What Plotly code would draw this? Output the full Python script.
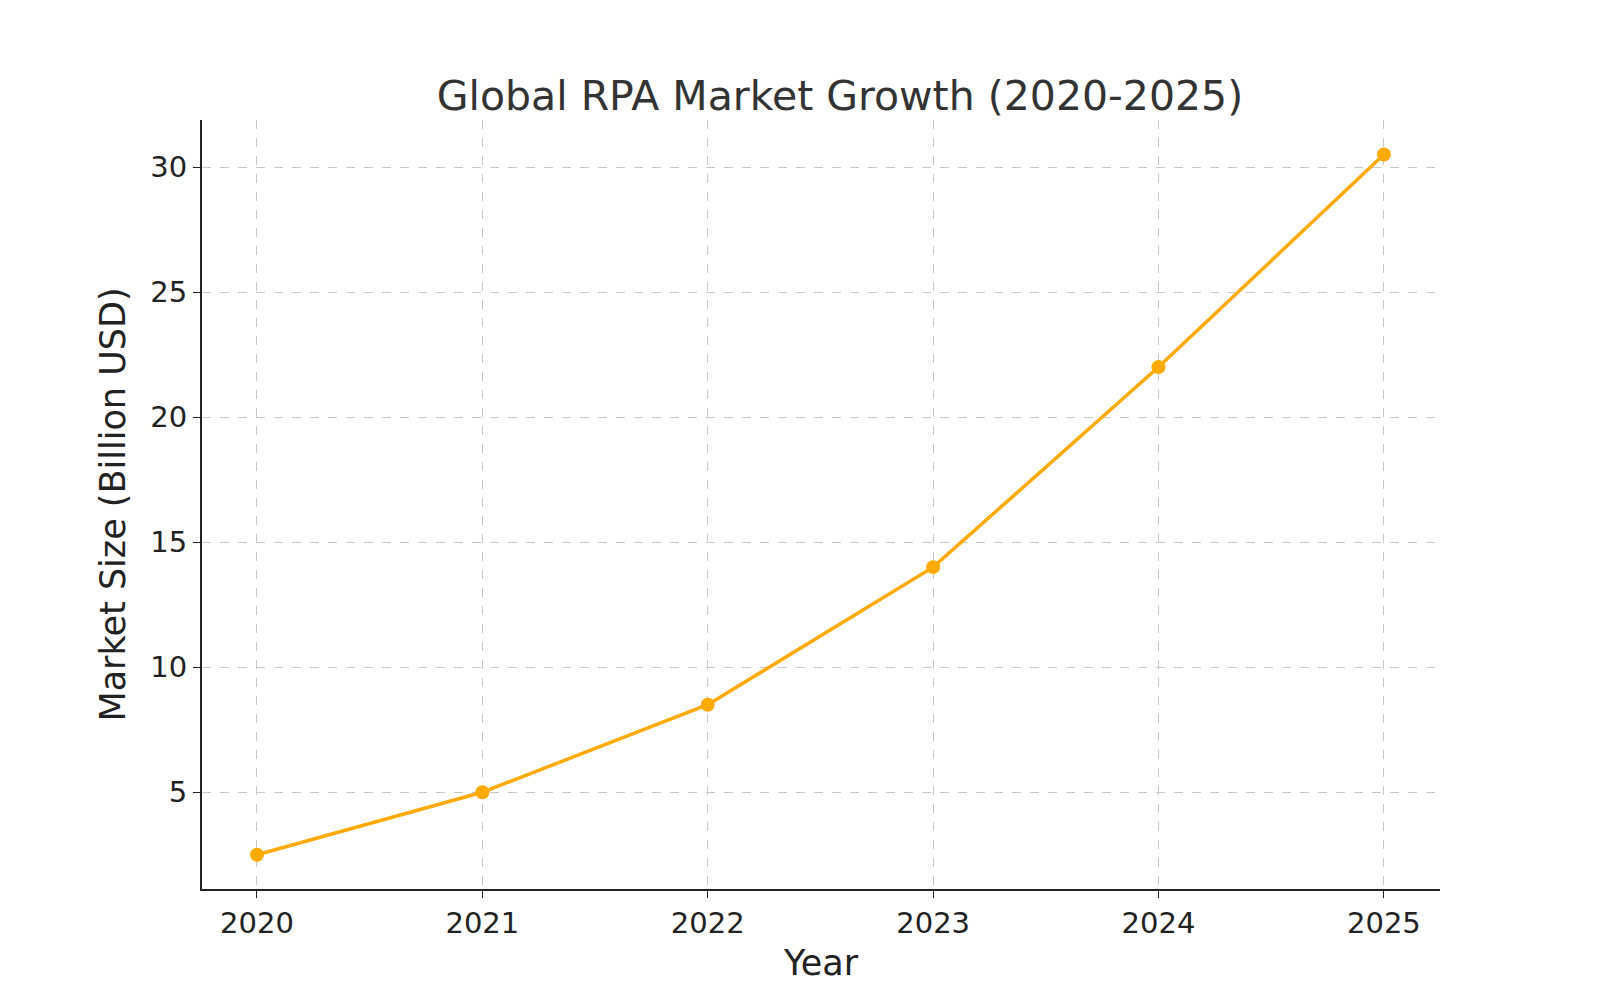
import plotly.graph_objects as go

years = [2020, 2021, 2022, 2023, 2024, 2025]
market_size = [2.5, 5, 8.5, 14, 22, 30.5]
y_ticks = [5, 10, 15, 20, 25, 30]

fig = go.Figure(go.Scatter(
    x=years, y=market_size, mode="lines+markers",
    line=dict(color="#FFAA00", width=3.5),
    marker=dict(color="#FFAA00", size=14),
))
fig.update_layout(
    width=1600, height=1000,
    paper_bgcolor="white", plot_bgcolor="white",
    font=dict(family="DejaVu Sans", color="#222", size=29),
    title=dict(text="Global RPA Market Growth (2020-2025)", x=0.52, xanchor="center",
               y=0.912, yanchor="middle", font=dict(size=41, color="#333")),
    margin=dict(l=194, r=168, t=112, b=119),
    showlegend=False,
)
axis_common = dict(showline=True, linecolor="#222", linewidth=2,
                   showgrid=True, gridcolor="#c8c8c8", griddash="dash", gridwidth=1,
                   ticks="outside", ticklen=7, tickcolor="#222", zeroline=False,
                   tickfont=dict(size=29))
fig.update_xaxes(range=[2019.756, 2025.249], tickvals=years, title_text="Year",
                 title_standoff=12, **axis_common)
fig.update_yaxes(range=[1.13, 31.88], tickvals=y_ticks, title_text="Market Size (Billion USD)",
                 title_standoff=14, **axis_common)
fig.write_html("out.html")
